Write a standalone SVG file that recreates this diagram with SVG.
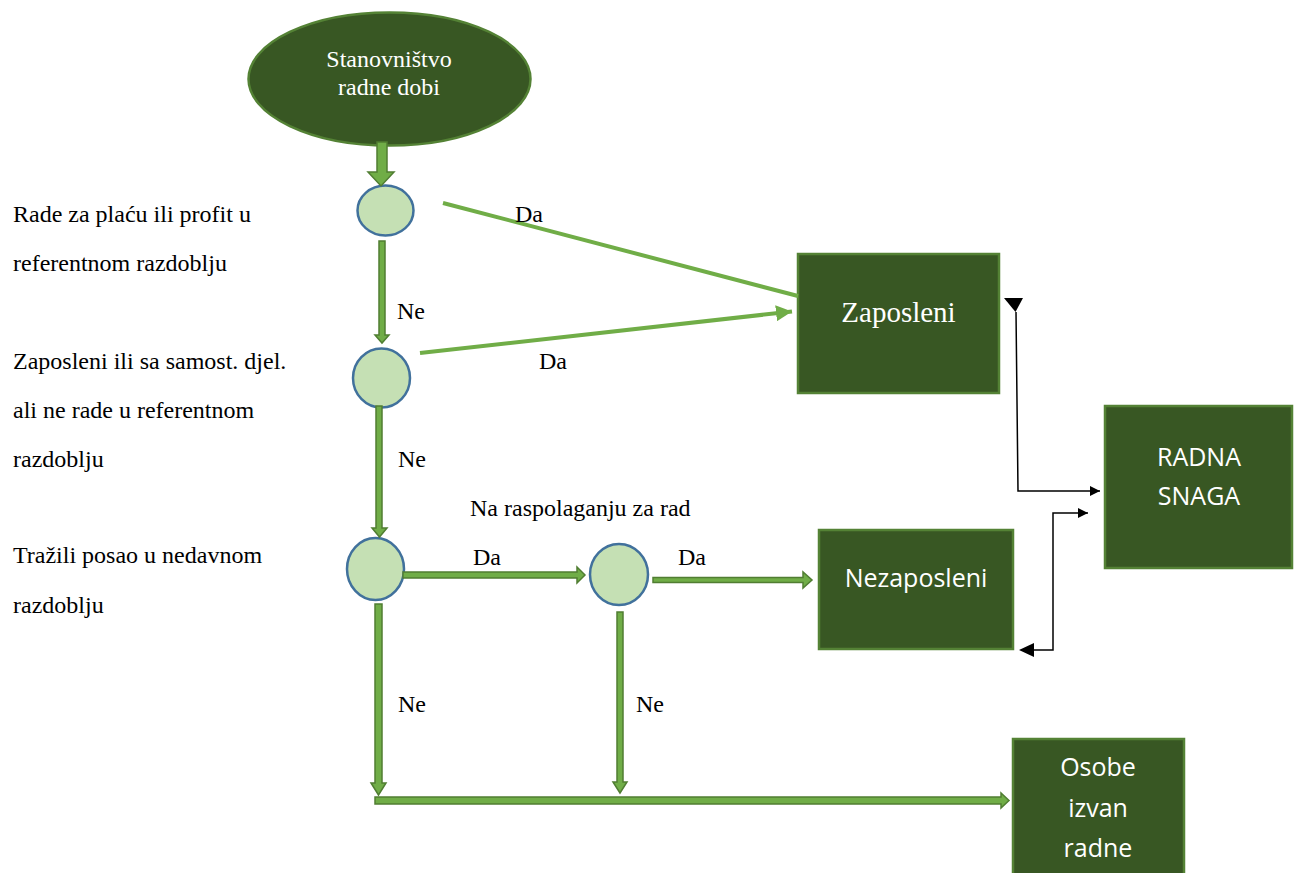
<svg xmlns="http://www.w3.org/2000/svg" width="1299" height="873" viewBox="0 0 1299 873">
<defs>
<style>
.lbl{font-family:"Liberation Serif","Times New Roman",serif;font-size:24px;fill:#000}
.wserif{font-family:"Liberation Serif","Times New Roman",serif;fill:#fff}
.wsans{font-family:"Open Sans","Liberation Sans",sans-serif;font-size:25px;fill:#fff}
.box{fill:#385723;stroke:#548235;stroke-width:2.5}
.dec{fill:#C5E0B4;stroke:#41719C;stroke-width:2.5}
.blk{fill:#70AD47;stroke:#507E32;stroke-width:1.5;stroke-linejoin:miter}
.gl{stroke:#70AD47;stroke-width:4;fill:none}
.bl{stroke:#000;stroke-width:1.5;fill:none}
</style>
<marker id="ga" viewBox="0 0 10 10" refX="10" refY="5" markerWidth="4" markerHeight="4" orient="auto" markerUnits="strokeWidth">
<path d="M0,0 L10,5 L0,10 Z" fill="#70AD47"/>
</marker>
<marker id="ba" viewBox="0 0 10 10" refX="10" refY="5" markerWidth="10" markerHeight="10" orient="auto" markerUnits="userSpaceOnUse">
<path d="M0,0 L10,5 L0,10 Z" fill="#000"/>
</marker>
</defs>
<rect width="1299" height="873" fill="#fff"/>

<g id="start">
<ellipse cx="389.5" cy="79" rx="141" ry="66.5" fill="#385723" stroke="#548235" stroke-width="2.5"/>
<text class="wserif" x="389" y="67" font-size="24" text-anchor="middle">Stanovništvo</text>
<text class="wserif" x="389" y="95" font-size="24" text-anchor="middle">radne dobi</text>
</g>

<g id="d1"><ellipse class="dec" cx="385.5" cy="210.5" rx="28" ry="25"/></g>
<g id="d2"><ellipse class="dec" cx="381.5" cy="378" rx="28.5" ry="29.5"/></g>
<g id="d3"><ellipse class="dec" cx="375.5" cy="569" rx="28.5" ry="31"/></g>
<g id="d4"><ellipse class="dec" cx="619" cy="574.5" rx="29" ry="30.5"/></g>

<g id="zaposleni">
<rect class="box" x="798" y="254" width="201" height="139"/>
<text class="wserif" x="898.5" y="322" font-size="29" text-anchor="middle">Zaposleni</text>
</g>
<g id="radna-snaga">
<rect class="box" x="1105" y="406" width="187" height="162"/>
<text class="wsans" x="1199" y="466" text-anchor="middle">RADNA</text>
<text class="wsans" x="1199" y="505" text-anchor="middle">SNAGA</text>
</g>
<g id="nezaposleni">
<rect class="box" x="819" y="530" width="194" height="119"/>
<text class="wsans" x="916" y="587" text-anchor="middle">Nezaposleni</text>
</g>
<g id="osobe">
<rect class="box" x="1013" y="739" width="171" height="150"/>
<text class="wsans" x="1098" y="776" text-anchor="middle">Osobe</text>
<text class="wsans" x="1098" y="817" text-anchor="middle">izvan</text>
<text class="wsans" x="1098" y="857" text-anchor="middle">radne</text>
</g>

<g id="connectors">
<path class="blk" d="M377,142 H387 V172 H394 L381,186 L368,172 H377 Z"/>
<path class="blk" d="M379,241 H385 V335 H389 L382,343 L375,335 H379 Z"/>
<path class="blk" d="M376,406 H382 V528 H387 L379.5,537 L372,528 H376 Z"/>
<path class="blk" d="M403,572 H577 V567 L585,575 L577,583 V578 H403 Z"/>
<path class="blk" d="M653,577.5 H803 V572 L812,580 L803,588 V582.5 H653 Z"/>
<path class="blk" d="M375,604 H382 V783 H386 L378.5,795 L371,783 H375 Z"/>
<path class="blk" d="M617,612 H623 V782 H627 L620,793 L613,782 H617 Z"/>
<path class="blk" d="M375,797 H1001 V793 L1009,800.5 L1001,808 V804 H375 Z"/>

<line class="gl" x1="443" y1="203" x2="798" y2="296"/>
<line class="gl" x1="420" y1="353" x2="792" y2="311.5" marker-end="url(#ga)"/>

<path class="bl" d="M1016,312 L1018,491 H1100" marker-end="url(#ba)"/>
<path d="M1004,298 H1023 L1015.5,312 Z" fill="#000"/>
<path class="bl" d="M1033,650 H1053 V513 H1088" marker-end="url(#ba)"/>
<path d="M1019,650 L1034,643 V657 Z" fill="#000"/>
</g>

<g id="labels">
<text class="lbl" x="515" y="222">Da</text>
<text class="lbl" x="397" y="319">Ne</text>
<text class="lbl" x="539" y="369">Da</text>
<text class="lbl" x="398" y="467">Ne</text>
<text class="lbl" x="470" y="516">Na raspolaganju za rad</text>
<text class="lbl" x="473" y="565">Da</text>
<text class="lbl" x="678" y="565">Da</text>
<text class="lbl" x="398" y="712">Ne</text>
<text class="lbl" x="636" y="712">Ne</text>
<text class="lbl" x="13" y="222">Rade za plaću ili profit u</text>
<text class="lbl" x="13" y="271">referentnom razdoblju</text>
<text class="lbl" x="13" y="369">Zaposleni ili sa samost. djel.</text>
<text class="lbl" x="13" y="418">ali ne rade u referentnom</text>
<text class="lbl" x="13" y="467">razdoblju</text>
<text class="lbl" x="13" y="563">Tražili posao u nedavnom</text>
<text class="lbl" x="13" y="613">razdoblju</text>
</g>
</svg>
